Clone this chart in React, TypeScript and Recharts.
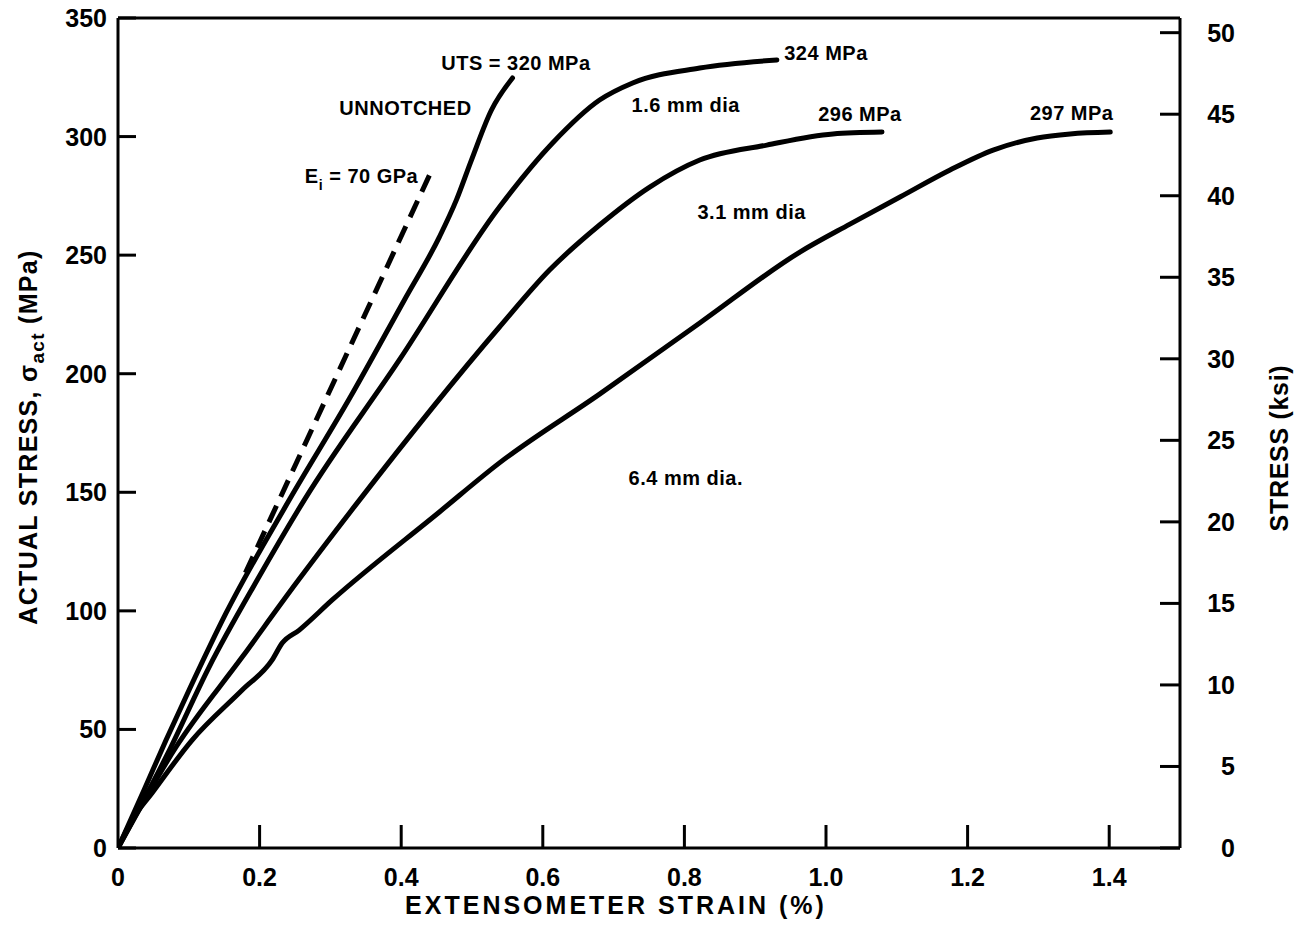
import React from 'react';
import { LineChart, Line, XAxis, YAxis, ReferenceLine, ReferenceDot } from 'recharts';

// strain (%) vs actual stress (MPa)
const unnotched = [
  { x: 0, y: 0 }, { x: 0.0368, y: 24.5 }, { x: 0.0679, y: 45.5 }, { x: 0.1004, y: 66.6 },
  { x: 0.1527, y: 99.1 }, { x: 0.2418, y: 146.7 }, { x: 0.3267, y: 189.4 }, { x: 0.4045, y: 231.1 },
  { x: 0.454, y: 257.7 }, { x: 0.478, y: 273.3 }, { x: 0.4992, y: 290.1 }, { x: 0.5275, y: 311.2 },
  { x: 0.5572, y: 324.7 },
];
const dia16 = [
  { x: 0, y: 0 }, { x: 0.0707, y: 40.1 }, { x: 0.1287, y: 76.3 }, { x: 0.1966, y: 113.0 },
  { x: 0.263, y: 146.7 }, { x: 0.3974, y: 205.8 }, { x: 0.5388, y: 270.3 }, { x: 0.6138, y: 297.3 },
  { x: 0.6802, y: 315.4 }, { x: 0.7269, y: 322.6 }, { x: 0.8217, y: 328.9 }, { x: 0.9306, y: 332.3 },
];
const dia31 = [
  { x: 0, y: 0 }, { x: 0.082, y: 42.6 }, { x: 0.1754, y: 80.5 }, { x: 0.2517, y: 111.7 },
  { x: 0.3366, y: 145.0 }, { x: 0.5388, y: 219.7 }, { x: 0.6095, y: 243.7 }, { x: 0.6802, y: 262.7 },
  { x: 0.751, y: 278.7 }, { x: 0.8217, y: 290.1 }, { x: 0.9164, y: 296.4 }, { x: 1.0098, y: 301.1 },
  { x: 1.0791, y: 301.9 },
];
const dia64 = [
  { x: 0, y: 0 }, { x: 0.0198, y: 11.8 }, { x: 0.0481, y: 23.2 }, { x: 0.1047, y: 45.5 },
  { x: 0.1754, y: 66.6 }, { x: 0.2178, y: 79.3 }, { x: 0.2319, y: 86.4 }, { x: 0.256, y: 91.9 },
  { x: 0.3026, y: 104.6 }, { x: 0.454, y: 141.7 }, { x: 0.5388, y: 162.4 }, { x: 0.6802, y: 191.4 },
  { x: 0.8217, y: 221.4 }, { x: 0.9631, y: 251.3 }, { x: 1.0338, y: 263.1 }, { x: 1.1045, y: 274.5 },
  { x: 1.1752, y: 285.9 }, { x: 1.236, y: 294.3 }, { x: 1.2983, y: 299.4 }, { x: 1.3449, y: 301.1 },
  { x: 1.4015, y: 301.9 },
];
const modulusLine = [{ x: 0.18, y: 116 }, { x: 0.445, y: 287 }];

const xTicks = [0, 0.2, 0.4, 0.6, 0.8, 1.0, 1.2, 1.4];
const yTicks = [0, 50, 100, 150, 200, 250, 300, 350];
const ksiTicks = [0, 5, 10, 15, 20, 25, 30, 35, 40, 45, 50];

const annotations = [
  { x: 0.562, y: 331, text: 'UTS = 320 MPa' },
  { x: 0.406, y: 312, text: 'UNNOTCHED' },
  { x: 0.344, y: 283.6, text: 'E|i| = 70 GPa' },
  { x: 1.0, y: 335.4, text: '324 MPa' },
  { x: 0.802, y: 313.5, text: '1.6 mm dia' },
  { x: 1.048, y: 309.7, text: '296 MPa' },
  { x: 0.895, y: 268.4, text: '3.1 mm dia' },
  { x: 1.347, y: 310, text: '297 MPa' },
  { x: 0.802, y: 156.3, text: '6.4 mm dia.' },
];

const FONT = '"Liberation Sans", Arial, Helvetica, sans-serif';

const LeftTick = (props: any) => {
  const { x, y, payload } = props;
  return (
    <g>
      <line x1={x} y1={y} x2={x + 18} y2={y} stroke="#000" strokeWidth={3} />
      <text x={x - 11} y={y} dy="0.36em" textAnchor="end" fontSize={25} fontWeight="bold" fontFamily={FONT} fill="#000">
        {payload.value}
      </text>
    </g>
  );
};

const RightTick = (props: any) => {
  const { x, y, payload } = props;
  return (
    <g>
      <line x1={x} y1={y} x2={x - 20} y2={y} stroke="#000" strokeWidth={3} />
      <text x={x + 55} y={y} dy="0.36em" textAnchor="end" fontSize={25} fontWeight="bold" fontFamily={FONT} fill="#000">
        {payload.value}
      </text>
    </g>
  );
};

const BottomTick = (props: any) => {
  const { x, y, payload } = props;
  const v = payload.value;
  const label = v === 0 ? '0' : Number(v).toFixed(1);
  return (
    <g>
      {v !== 0 && <line x1={x} y1={y} x2={x} y2={y - 23} stroke="#000" strokeWidth={3} />}
      <text x={x} y={y + 20} dy="0.71em" textAnchor="middle" fontSize={25} fontWeight="bold" fontFamily={FONT} fill="#000">
        {label}
      </text>
    </g>
  );
};

const AnnotationShape = (text: string) => (props: any) => {
  const { cx, cy } = props;
  const common = { fontSize: 20, fontWeight: 'bold' as const, fontFamily: FONT, fill: '#000', letterSpacing: 0.5 };
  if (text.includes('|')) {
    const [a, sub, b] = text.split('|');
    return (
      <text x={cx} y={cy} dy="0.36em" textAnchor="middle" {...common}>
        <tspan>{a}</tspan>
        <tspan dy={7} fontSize={14}>{sub}</tspan>
        <tspan dy={-7}>{b}</tspan>
      </text>
    );
  }
  return (
    <text x={cx} y={cy} dy="0.36em" textAnchor="middle" {...common}>
      {text}
    </text>
  );
};

const lineProps = {
  yAxisId: 'left',
  dataKey: 'y',
  stroke: '#000',
  strokeWidth: 5,
  dot: false,
  isAnimationActive: false,
  strokeLinecap: 'round' as const,
  strokeLinejoin: 'round' as const,
};

export default function App() {
  return (
    <div style={{ position: 'absolute', left: 0, top: 0, background: '#fff' }}>
      <LineChart width={1304} height={942} margin={{ top: 18, right: 0, bottom: 0, left: 0 }}>
        <XAxis
          dataKey="x"
          type="number"
          domain={[0, 1.5]}
          ticks={xTicks}
          tick={<BottomTick />}
          tickLine={false}
          tickSize={0}
          tickMargin={0}
          height={94}
          axisLine={{ stroke: '#000', strokeWidth: 3 }}
          allowDataOverflow
        />
        <YAxis
          yAxisId="left"
          type="number"
          domain={[0, 350]}
          ticks={yTicks}
          tick={<LeftTick />}
          tickLine={false}
          tickSize={0}
          tickMargin={0}
          width={118}
          axisLine={{ stroke: '#000', strokeWidth: 3 }}
          allowDataOverflow
        />
        <YAxis
          yAxisId="right"
          orientation="right"
          type="number"
          domain={[0, 50.9]}
          ticks={ksiTicks}
          tick={<RightTick />}
          tickLine={false}
          tickSize={0}
          tickMargin={0}
          width={124}
          axisLine={{ stroke: '#000', strokeWidth: 3 }}
          allowDataOverflow
        />
        <ReferenceLine yAxisId="left" y={350} stroke="#000" strokeWidth={3} />
        <Line {...lineProps} data={unnotched} type="monotone" />
        <Line {...lineProps} data={dia16} type="monotone" />
        <Line {...lineProps} data={dia31} type="monotone" />
        <Line {...lineProps} data={dia64} type="monotone" />
        <Line {...lineProps} data={modulusLine} type="linear" strokeDasharray="18 10" strokeLinecap="butt" />
        {annotations.map((a) => (
          <ReferenceDot key={a.text} yAxisId="left" x={a.x} y={a.y} r={0} shape={AnnotationShape(a.text)} />
        ))}
        <text x={616} y={905} dy="0.36em" textAnchor="middle" fontSize={25} fontWeight="bold" fontFamily={FONT} letterSpacing={3} fill="#000">
          EXTENSOMETER STRAIN (%)
        </text>
        <text transform="translate(28,437) rotate(-90)" x={0} y={0} dy="0.36em" textAnchor="middle" fontSize={25} fontWeight="bold" fontFamily={FONT} letterSpacing={1.3} fill="#000">
          <tspan>ACTUAL STRESS, σ</tspan>
          <tspan dy={7} fontSize={19}>act</tspan>
          <tspan dy={-7}> (MPa)</tspan>
        </text>
        <text transform="translate(1279,448) rotate(-90)" x={0} y={0} dy="0.36em" textAnchor="middle" fontSize={25} fontWeight="bold" fontFamily={FONT} letterSpacing={0.7} fill="#000">
          STRESS (ksi)
        </text>
      </LineChart>
    </div>
  );
}
